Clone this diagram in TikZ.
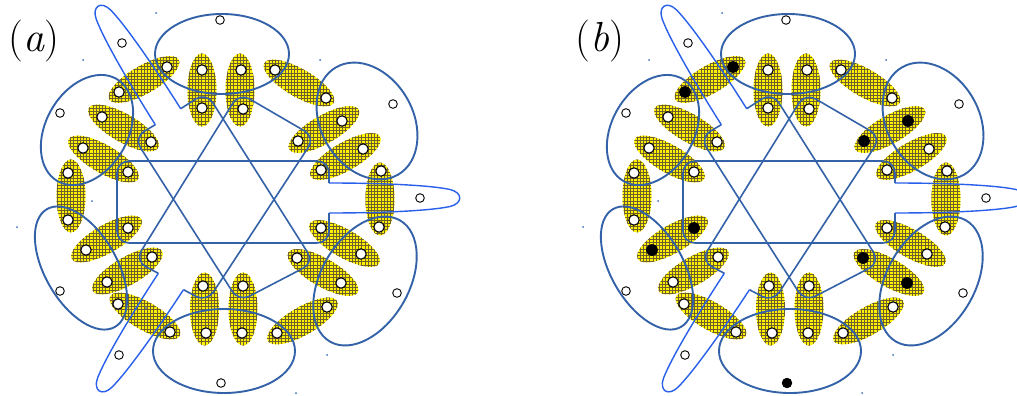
\documentclass[tikz,border=0pt]{standalone}
\usetikzlibrary{patterns}
\definecolor{loopblue}{RGB}{52,98,168}
\definecolor{lobeblue}{RGB}{40,95,235}
\definecolor{gridc}{RGB}{110,95,45}
\definecolor{speck}{RGB}{60,110,190}
\pgfdeclarepatternformonly{ygrid}{\pgfqpoint{-1pt}{-1pt}}{\pgfqpoint{4pt}{4pt}}{\pgfqpoint{3.2pt}{3.2pt}}{%
  \pgfsetlinewidth{0.45pt}%
  \pgfpathmoveto{\pgfqpoint{0pt}{0pt}}\pgfpathlineto{\pgfqpoint{3.3pt}{0pt}}%
  \pgfpathmoveto{\pgfqpoint{0pt}{0pt}}\pgfpathlineto{\pgfqpoint{0pt}{3.3pt}}%
  \pgfusepath{stroke}}
\tikzset{
  dimer/.style={pattern=ygrid, pattern color=gridc, preaction={fill=yellow}},
  bigell/.style={draw=loopblue, line width=1.9pt},
  loopline/.style={draw=loopblue, line width=1.6pt, rounded corners=12pt},
  lobeline/.style={draw=lobeblue, line width=1.4pt},
  sitec/.style={draw=black, fill=white, line width=1.1pt},
  lonec/.style={draw=black, fill=white, line width=0.9pt},
  label/.style={inner sep=0pt, font=\fontsize{42}{44}\selectfont}
}
\newcommand\tdimer[3]{\path[dimer, rotate around={#3:(#1,#2)}] (#1,#2) ellipse [x radius=40pt, y radius=14pt];}
\newcommand\vdimer[2]{\path[dimer] (#1,#2) ellipse [x radius=14.5pt, y radius=36.5pt];}
\newcommand\mysite[2]{\path[sitec] (#1,#2) circle [radius=5.2pt];}
\newcommand\mylone[2]{\path[lonec] (#1,#2) circle [radius=4.3pt];}
\newcommand\myocc[2]{\fill[black] (#1,#2) circle [radius=5.8pt];}
\newcommand\myspeck[2]{\fill[speck] (#1,#2) circle [radius=1pt];}
\newcommand\mylobe[3]{\begin{scope}[shift={(#1,#2)}, rotate=#3]
  \draw[lobeline] (0,-15) .. controls (50,-15) and (100,-13) .. (121,-8.5) .. controls (134,-5.5) and (134,5.5) .. (121,8.5) .. controls (100,13) and (50,15) .. (0,15);
\end{scope}}
\newcommand\drawpanel{%
  % dimers (yellow hatched ellipses)
  \vdimer{202}{90}\vdimer{240}{90}\vdimer{204.5}{309}\vdimer{243}{309}\vdimer{71}{196}\vdimer{380}{199}
  \tdimer{144}{79.5}{30}\tdimer{123.5}{128}{-30}\tdimer{103.5}{159}{-30}
  \tdimer{299}{83}{-30}\tdimer{324}{129.5}{30}\tdimer{345.5}{156.5}{30}
  \tdimer{106.5}{239}{30}\tdimer{127.5}{271}{30}\tdimer{145}{316}{-30}
  \tdimer{344.5}{243.5}{-30}\tdimer{323}{272.5}{-30}\tdimer{302.5}{321}{30}
  % big outer ellipses
  \draw[bigell] (222,54) ellipse [x radius=67pt, y radius=40pt];
  \draw[bigell] (224,351) ellipse [x radius=71pt, y radius=42pt];
  \draw[bigell, rotate around={60:(87,130)}] (87,130) ellipse [x radius=59pt, y radius=41pt];
  \draw[bigell, rotate around={-60:(367,121)}] (367,121) ellipse [x radius=62pt, y radius=46pt];
  \draw[bigell, rotate around={-60:(81,268)}] (81,268) ellipse [x radius=68pt, y radius=36pt];
  \draw[bigell, rotate around={60:(365,281)}] (365,281) ellipse [x radius=70pt, y radius=44pt];
  % central loops with lobes
  \draw[loopline] (329,213) -- (329,243) -- (117,243) -- (117,161) -- (329,161) -- (329,183);
  \mylobe{329}{198}{0}
  \draw[loopline] (180.7,108.7) -- (206.2,92.3) -- (314,262.6) -- (238.8,301.7) -- (133.9,137.4) -- (155.3,124.7);
  \mylobe{168}{116.7}{122.3}
  \draw[loopline] (158.3,273.3) -- (135,261) -- (239.2,92.9) -- (315,137) -- (206.8,302.1) -- (183.5,289.7);
  \mylobe{170.9}{281.5}{-123.2}
  % sites in dimers
  \mysite{202}{70}\mysite{202}{108}\mysite{241}{70}\mysite{243}{109}
  \mysite{203}{286}\mysite{206}{333}\mysite{243}{286}\mysite{242}{333}
  \mysite{68}{173}\mysite{68}{220}\mysite{381}{171}\mysite{379}{227}
  \mysite{119}{92}\mysite{167}{67}\mysite{102}{117}\mysite{151}{142}\mysite{83}{148}\mysite{128}{172}
  \mysite{275}{70}\mysite{326}{98}\mysite{298}{141}\mysite{342}{121}\mysite{321}{170}\mysite{363}{149}
  \mysite{128}{228}\mysite{86}{250}\mysite{152}{257}\mysite{107}{282}\mysite{118}{304}\mysite{170}{332}
  \mysite{321}{228}\mysite{361}{254}\mysite{297}{258}\mysite{341}{283}\mysite{327}{307}\mysite{277}{333}
  % lone sites
  \mylone{220}{20}\mylone{60}{113}\mylone{393}{104}\mylone{397}{293}\mylone{221}{383}\mylone{60}{291}
  \mylone{122}{43}\mylone{420}{198}\mylone{119}{355}
  % specks
  \myspeck{83}{60}\myspeck{156}{13}\myspeck{320}{60}\myspeck{92}{201}\myspeck{17}{227}
  \myspeck{146}{308}\myspeck{327}{355}\myspeck{296}{393}
}
\begin{document}
\begin{tikzpicture}[x=1pt, y=-1pt]
  \useasboundingbox (0,0) rectangle (1017,396);
  \fill[white] (0,0) rectangle (1017,396);
  \node[label] (la) at (34,41) {(\textit{a})};
  \node[label] (lb) at (600,41) {(\textit{b})};
  \begin{scope}
    \drawpanel
  \end{scope}
  \begin{scope}[xshift=566pt]
    \drawpanel
    \myocc{119}{92}\myocc{167}{67}
    \myocc{298}{141}\myocc{342}{121}
    \myocc{128}{228}\myocc{86}{250}
    \myocc{297}{258}\myocc{341}{283}
    \fill[black] (221,383) circle [radius=5.2pt];
  \end{scope}
\end{tikzpicture}
\end{document}
